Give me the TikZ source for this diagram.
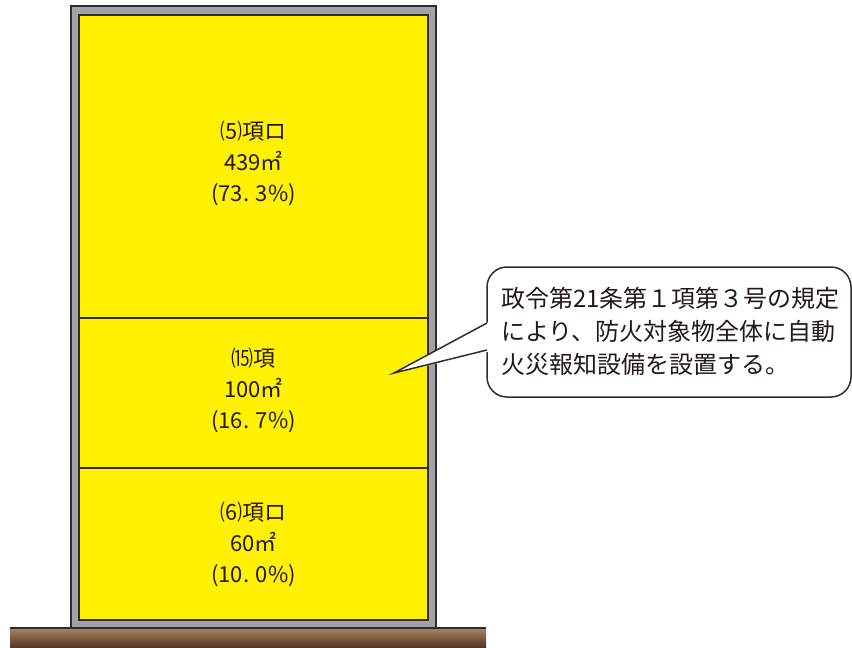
\documentclass[tikz,border=0pt]{standalone}
\usepackage{fontspec}
\setmainfont{Noto Sans CJK JP}
\newfontfamily\jpfont{Noto Sans CJK JP}
\definecolor{bldyellow}{RGB}{255,241,0}
\definecolor{wallgray}{RGB}{162,163,168}
\definecolor{edgedark}{RGB}{45,45,48}
\definecolor{txtdark}{RGB}{35,24,21}
\definecolor{groundtop}{RGB}{172,132,96}
\definecolor{groundmid}{RGB}{128,94,66}
\definecolor{groundbot}{RGB}{76,51,33}
\tikzset{
  wall/.style={fill=wallgray, draw=edgedark, line width=1.2pt},
  floorarea/.style={fill=bldyellow, draw=edgedark, line width=2pt},
  divider/.style={draw=edgedark, line width=1.3pt},
  roomlabel/.style={font=\jpfont\fontsize{22}{31}\selectfont, text=txtdark, align=center, inner sep=0pt},
  notebox/.style={fill=white, draw=edgedark, line width=1.5pt, rounded corners=20pt},
  notetext/.style={font=\jpfont\fontsize{24}{33}\selectfont, text=txtdark, align=left, inner sep=0pt, anchor=west},
}
\begin{document}
\begin{tikzpicture}[x=1pt,y=-1pt]
\useasboundingbox (0,0) rectangle (852,648);
% ground
\shade[top color=groundtop, middle color=groundmid, bottom color=groundbot] (10,628) rectangle (486,648);
% building
\draw[wall] (71,6) rectangle (436,628);
\draw[floorarea] (79,15) rectangle (428,620);
\draw[edgedark, line width=1.3pt] (10,628) -- (486,628);
\draw[divider] (79,318) -- (428,318);
\draw[divider] (79,468) -- (428,468);
% room labels
\node[roomlabel] (r5) at (253.5,163) {⑸項ロ\\439㎡\\(73. 3\%)};
\node[roomlabel] (r15) at (253.5,390) {⒂項\\100㎡\\(16. 7\%)};
\node[roomlabel] (r6) at (253.5,544) {⑹項ロ\\60㎡\\(10. 0\%)};
% callout
\draw[notebox] (487,267) rectangle (851,397);
\coordinate (tip) at (394,373);
\coordinate (b1) at (487,323);
\coordinate (b2) at (487,350);
\fill[white] (489.5,321.5) -- (tip) -- (489.5,351.5) -- cycle;
\draw[edgedark, line width=1.5pt, line join=miter] (b1) -- (tip) -- (b2);
\node[notetext] (note) at (501,331) {政令第21条第１項第３号の規定\\により、防火対象物全体に自動\\火災報知設備を設置する。};
\end{tikzpicture}
\end{document}
